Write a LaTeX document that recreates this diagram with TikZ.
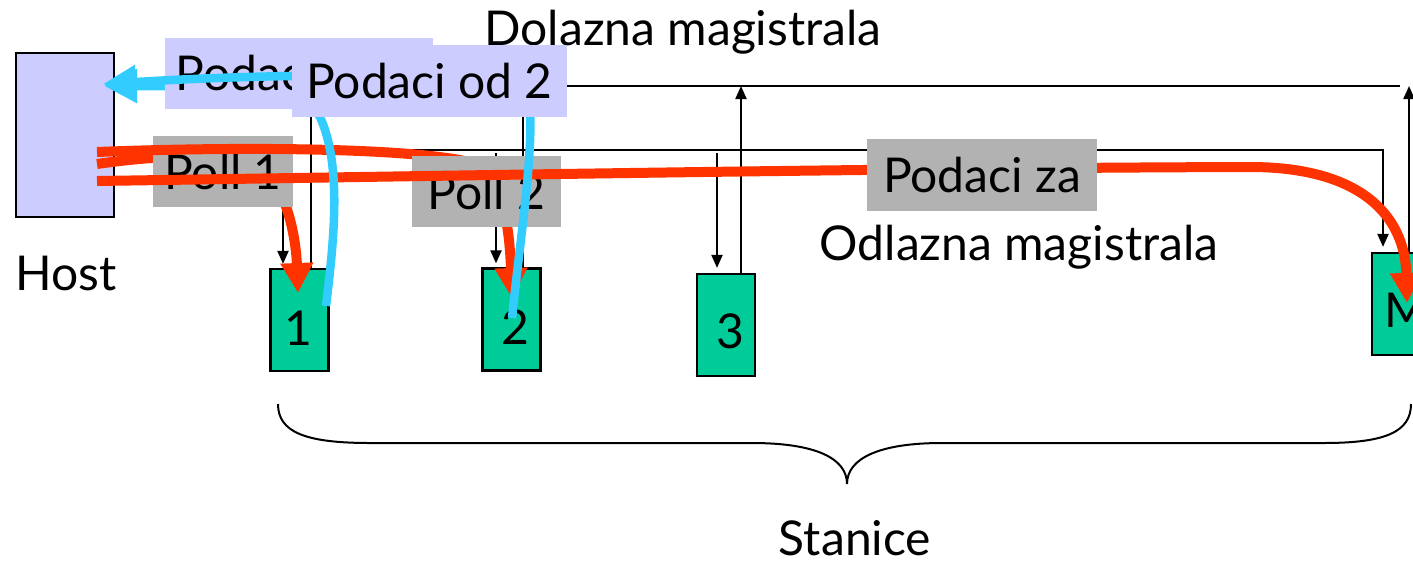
\documentclass[tikz,border=0pt]{standalone}
\usepackage{fontspec}
\setmainfont{Lato}
\usetikzlibrary{arrows.meta,calc}
\definecolor{lav}{HTML}{CCCCFF}
\definecolor{stgreen}{HTML}{00CC99}
\definecolor{lblgray}{HTML}{B2B2B2}
\definecolor{pollred}{HTML}{FF3300}
\definecolor{datablue}{HTML}{33CCFF}
\newcommand{\diagfont}{\fontsize{48}{54}\selectfont}
\begin{document}
\begin{tikzpicture}[x=1pt,y=-1pt,
  bus/.style={line width=2pt},
  busarrow/.style={line width=2pt,-{Triangle[length=13pt,width=11pt]}},
  station/.style={draw,line width=2.2pt,fill=stgreen,minimum width=58pt,minimum height=102pt,inner sep=0pt},
  graybox/.style={fill=lblgray,inner sep=0pt,font=\diagfont},
  lavbox/.style={fill=lav,inner sep=0pt,font=\diagfont},
  txt/.style={font=\diagfont,inner sep=0pt},
  redarrow/.style={draw=pollred,line width=10pt,-{Triangle[length=30pt,width=31pt]}},
  bluearrow/.style={draw=datablue,line width=8.5pt,-{Triangle[length=33pt,width=32pt]}},
]
\useasboundingbox (0,0) rectangle (1413,563);

% host and stations
\node[draw,line width=2pt,fill=lav,minimum width=98pt,minimum height=164pt,inner sep=0pt] (host) at (64.5,134.5) {};
\node[station] (s1) at (299.5,320) {};
\node[station] (s2) at (511.5,319.5) {};
\node[station] (s3) at (726,325) {};
\node[station] (sM) at (1401,304) {};
\node[txt,anchor=base] (l1) at (298,345) {1};
\node[txt,anchor=base] (l2) at (515,344) {2};
\node[txt,anchor=base] (l3) at (730,348) {3};
\node[txt,anchor=base west] (lM) at (1384,327) {M};

% texts
\node[txt,anchor=base] (dolazna) at (683,45) {Dolazna magistrala};
\node[txt,anchor=base] (odlazna) at (1019,260) {Odlazna magistrala};
\node[txt,anchor=base] (hostlbl) at (66,290) {Host};
\node[txt,anchor=base] (stanice) at (855,555) {Stanice};

% buses
\coordinate (yTop) at (0,86);
\coordinate (yLow) at (0,150);
\coordinate (topR) at (1400,86);
\coordinate (lowR) at (1383,150);
\draw[bus] (host.east |- yTop) -- (topR);
\draw[busarrow] (lowR -| host.east) -- (lowR) -- ($(sM.north)+(-18,-5)$);
\draw[busarrow] ($(s1.north)+(11.5,0)$) coordinate (u1) -- (u1 |- yTop);
\draw[busarrow] ($(s2.north)+(11.5,0)$) coordinate (u2) -- (u2 |- yTop);
\draw[busarrow] ($(s3.north)+(15,0)$) coordinate (u3) -- (u3 |- yTop);
\draw[busarrow] ($(sM.north)+(8,0)$) coordinate (uM) -- (uM |- yTop);
\coordinate (d1) at (283,153);
\coordinate (d2) at (496,153);
\coordinate (d3) at (717,153);
\draw[busarrow] (d1) -- ($(s1.north)+(-16.5,-4)$);
\draw[busarrow] (d2) -- ($(s2.north)+(-15.5,-4)$);
\draw[busarrow] (d3) -- ($(s3.north)+(-9,-5)$);

% brace
\draw[line width=2pt] (278,404) .. controls (278,432) and (305,443) .. (370,443) -- (752,443)
  .. controls (815,443) and (847,458) .. (847,484)
  .. controls (847,458) and (880,443) .. (942,443) -- (1324,443)
  .. controls (1385,443) and (1411,432) .. (1411,404);

% poll 1
\coordinate (r1) at (97,164);
\draw[redarrow] (r1) .. controls (160,155) and (240,150) .. (268,175) .. controls (288,195) and (296,240) .. (298,293);
\node[graybox,minimum width=140pt,minimum height=71pt] (poll1) at (223,171.5) {Poll 1};
% poll 2
\coordinate (r2) at (97,152);
\draw[redarrow] (r2) .. controls (250,146) and (430,148) .. (480,165) .. controls (505,180) and (510,240) .. (512,298);
\node[graybox,minimum width=149pt,minimum height=71pt] (poll2) at (486.5,191.5) {Poll 2};
% data to M
\coordinate (r3) at (97,181);
\draw[redarrow] (r3) .. controls (500,175) and (900,168) .. (1250,167) .. controls (1360,167) and (1405,215) .. (1407,303);
\node[graybox,minimum width=230pt,minimum height=72pt] (podza) at (982,175) {Podaci za};

% data from 1
\coordinate (b1) at (326,306);
\coordinate (b1h) at (104,86);
\draw[bluearrow] (b1) .. controls (334,240) and (342,165) .. (320,117) .. controls (300,85) and (200,86) .. (b1h);
\node[lavbox,minimum width=268pt,minimum height=71pt] (pod1) at (299,73.5) {Podaci od 1};
% data from 2
\coordinate (b2) at (512,318);
\coordinate (b2h) at (103,84);
\draw[bluearrow] (b2) .. controls (520,240) and (533,160) .. (530,105) .. controls (528,70) and (300,72) .. (b2h);
\node[lavbox,minimum width=275pt,minimum height=72pt] (pod2) at (429.5,81) {Podaci od 2};
\end{tikzpicture}
\end{document}
